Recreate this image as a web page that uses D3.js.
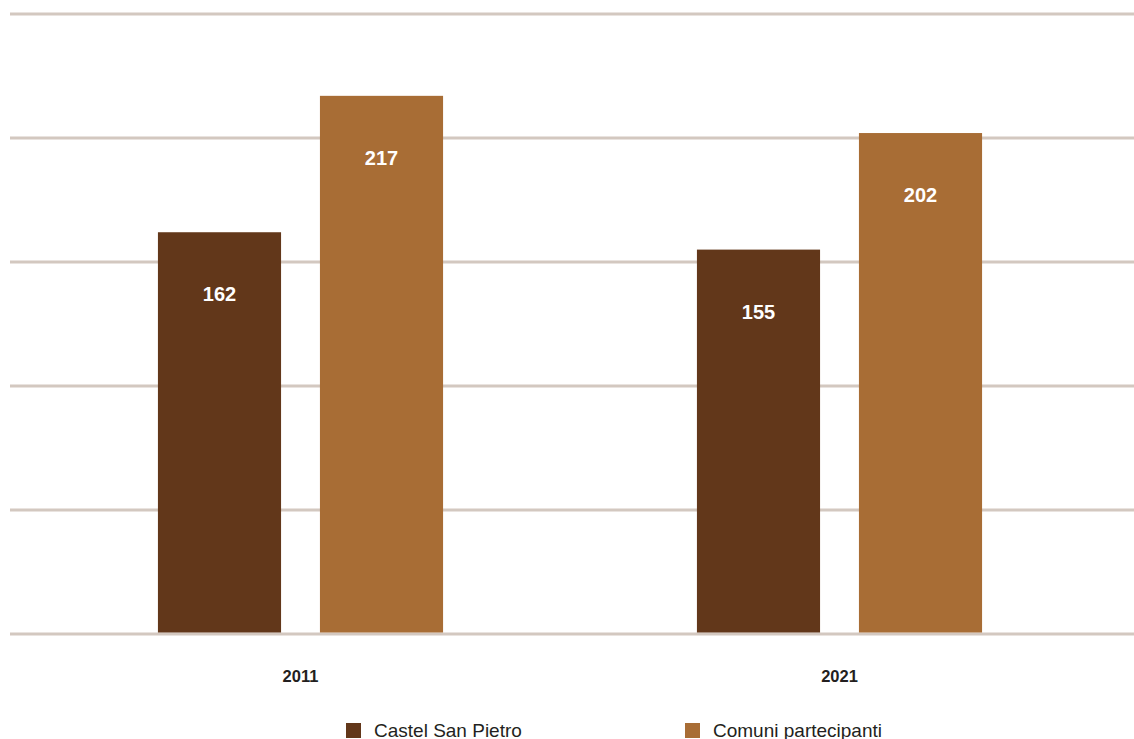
<!DOCTYPE html>
<html>
<head>
<meta charset="UTF-8">
<style>
    body { margin: 0; background: #fff; }
    text { font-family: "Liberation Sans", Arial, sans-serif; }
    .val { font-size: 20px; font-weight: bold; fill: #fff; text-anchor: middle; }
    .year { font-size: 16.5px; font-weight: bold; fill: #231f20; text-anchor: middle; }
    .leg { font-size: 19px; fill: #231f20; }
</style>
</head>
<body>
<script src="https://d3js.org/d3.v7.min.js"></script>
<svg id="svg" width="1134" height="739"></svg>
<script>
    var years = ["2011", "2021"];
    var series = ["Castel San Pietro", "Comuni partecipanti"];
    var castel = [162, 155];
    var comuni = [217, 202];
    var ticks = [0, 50, 100, 150, 200, 250];
    var colors = ["#62371a", "#a86d35"];

    var svg = d3.select("svg");
    var y = d3.scaleLinear().domain([0, 250]).range([634, 14]);
    var x0 = d3.scaleBand().domain(years).range([31, 1109]).paddingInner(0.471).paddingOuter(0.2355);
    var x1 = d3.scaleBand().domain(series).range([0, x0.bandwidth()]).paddingInner(0.24);
    var color = d3.scaleOrdinal().domain(series).range(colors);

    // gridlines
    svg.append("g").selectAll("line").data(ticks).join("line")
        .attr("x1", 10).attr("x2", 1134)
        .attr("y1", d => y(d)).attr("y2", d => y(d))
        .attr("stroke", "#d3c8c0").attr("stroke-width", 3);

    var rows = years.map((yr, i) => ({ year: yr, vals: [castel[i], comuni[i]] }));

    var g = svg.append("g").selectAll("g").data(rows).join("g")
        .attr("transform", d => "translate(" + x0(d.year) + ",0)");

    g.selectAll("rect").data(d => d.vals.map((v, j) => ({ s: series[j], v: v }))).join("rect")
        .attr("x", d => x1(d.s)).attr("width", x1.bandwidth())
        .attr("y", d => y(d.v)).attr("height", d => y(0) - y(d.v) - 1.5)
        .attr("fill", d => color(d.s));

    g.selectAll("text.val").data(d => d.vals.map((v, j) => ({ s: series[j], v: v }))).join("text")
        .attr("class", "val")
        .attr("x", d => x1(d.s) + x1.bandwidth() / 2)
        .attr("y", d => y(d.v) + 69)
        .text(d => d.v);

    svg.append("g").selectAll("text").data(years).join("text")
        .attr("class", "year")
        .attr("x", d => x0(d) + x0.bandwidth() / 2)
        .attr("y", 682)
        .text(d => d);

    // legend
    var legX = [346, 685];
    var leg = svg.append("g").selectAll("g").data(series).join("g")
        .attr("transform", (d, i) => "translate(" + legX[i] + ",723)");
    leg.append("rect").attr("width", 15).attr("height", 15).attr("fill", d => color(d));
    leg.append("text").attr("class", "leg").attr("x", 28).attr("y", 14).text(d => d);
</script>
</body>
</html>
